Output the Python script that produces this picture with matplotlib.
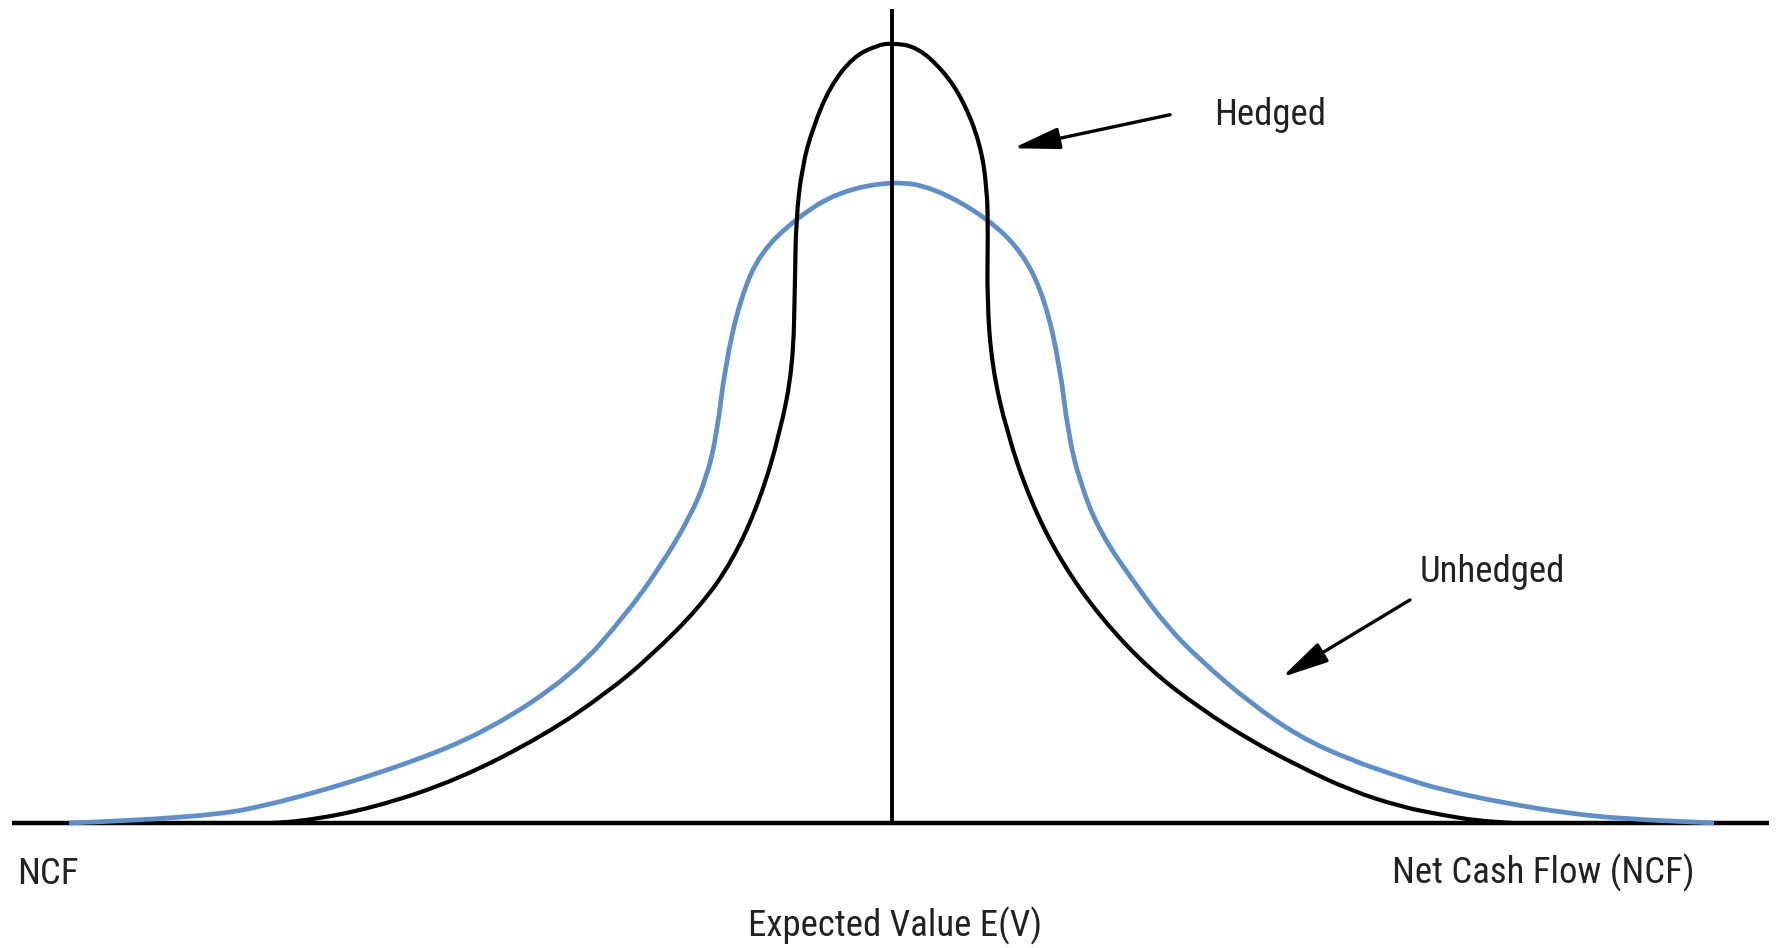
import matplotlib
matplotlib.use('Agg')
import matplotlib.pyplot as plt
from matplotlib.path import Path
from matplotlib.patches import PathPatch

# x: net cash flow relative to the expected value, y: relative frequency
hedged_x = [-62.0, -59.4, -51.9, -43.3, -34.7, -28.5, -24.2, -19.2, -15.9,
            -13.2, -11.2, -9.9, -9.7, -9.6, -9.0, -7.9, -6.2, -3.9, -1.5, 0.0,
            2.5, 5.1, 7.1, 8.8, 9.5, 9.6, 9.5, 10.0, 11.5, 13.8, 16.8, 20.8,
            25.8, 30.8, 35.8, 40.8, 45.8, 50.8, 55.1, 58.5, 62.0]
hedged_y = [0.0, 0.001, 0.019, 0.056, 0.113, 0.167, 0.213, 0.277, 0.337,
            0.414, 0.500, 0.585, 0.694, 0.773, 0.841, 0.892, 0.944, 0.982,
            0.997, 1.0,
            0.995, 0.965, 0.927, 0.872, 0.815, 0.756, 0.671, 0.585, 0.500,
            0.414, 0.337, 0.264, 0.196, 0.147, 0.106, 0.072, 0.042, 0.021,
            0.010, 0.003, 0.0]

unhedged_x = [-82.3, -69.1, -60.5, -49.0, -40.4, -31.8, -26.5, -23.2, -20.2,
              -18.5, -17.5, -16.7, -15.2, -13.2, -9.5, -5.4, 0.0,
              4.1, 9.5, 13.1, 15.3, 16.8, 17.6, 18.8, 20.8, 24.5, 27.5, 30.8,
              35.8, 40.8, 45.8, 50.8, 55.1, 61.5, 67.8, 73.5, 82.2]
unhedged_y = [0.0, 0.006, 0.028, 0.073, 0.118, 0.191, 0.269, 0.328, 0.392,
              0.444, 0.500, 0.585, 0.671, 0.731, 0.776, 0.809, 0.823,
              0.815, 0.776, 0.731, 0.671, 0.585, 0.500, 0.436, 0.372, 0.303,
              0.252, 0.209, 0.154, 0.110, 0.081, 0.059, 0.042, 0.025, 0.012,
              0.005, 0.0]

axis_left, axis_right = -88.0, 87.7
mean_top = 1.0436

blue = '#5f8fc6'
fonts = ['Roboto Condensed', 'Roboto', 'DejaVu Sans']


def smooth_path(xs, ys):
    # quadratic bezier, read points as control points
    verts = [(xs[0], ys[0])]
    codes = [Path.MOVETO]
    for i in range(1, len(xs) - 1):
        verts.append((xs[i], ys[i]))
        verts.append(((xs[i] + xs[i + 1]) / 2, (ys[i] + ys[i + 1]) / 2))
        codes += [Path.CURVE3, Path.CURVE3]
    verts.append((xs[-1], ys[-1]))
    codes.append(Path.LINETO)
    return Path(verts, codes)


fig = plt.figure(figsize=(17.76, 9.48), dpi=100)
ax = fig.add_axes([0, 0, 1, 1])
ax.set_xlim(-89.2, 88.4)
ax.set_ylim(-0.1603, 1.0551)
ax.axis('off')

ax.plot([axis_left, axis_right], [0, 0], color='black', lw=3.2, zorder=1,
        solid_capstyle='butt')
ax.add_patch(PathPatch(smooth_path(unhedged_x, unhedged_y), fill=False,
                       edgecolor=blue, lw=3.4, zorder=2, joinstyle='round'))
ax.add_patch(PathPatch(smooth_path(hedged_x, hedged_y), fill=False,
                       edgecolor='black', lw=3.0, zorder=3, joinstyle='round'))
ax.plot([0, 0], [0, mean_top], color='black', lw=2.8, zorder=4,
        solid_capstyle='butt')

txt = dict(fontsize=26.5, color='#222222', family=fonts, va='baseline')
ax.text(-84.4, -0.078, 'NCF', ha='center', **txt)
ax.text(65.1, -0.078, 'Net Cash Flow (NCF)', ha='center', **txt)
ax.text(0.3, -0.146, 'Expected Value E(V)', ha='center', **txt)
ax.text(37.8, 0.895, 'Hedged', ha='center', **txt)
ax.text(60.0, 0.309, 'Unhedged', ha='center', **txt)

arrow = dict(arrowstyle='-|>,head_length=0.95,head_width=0.22',
             mutation_scale=30, color='black', lw=2.4,
             shrinkA=0, shrinkB=0)
ax.annotate('', xy=(12.1, 0.865), xytext=(27.8, 0.908), arrowprops=arrow)
ax.annotate('', xy=(39.0, 0.187), xytext=(51.8, 0.286), arrowprops=arrow)

fig.savefig('out.png', dpi=100, facecolor='white')
